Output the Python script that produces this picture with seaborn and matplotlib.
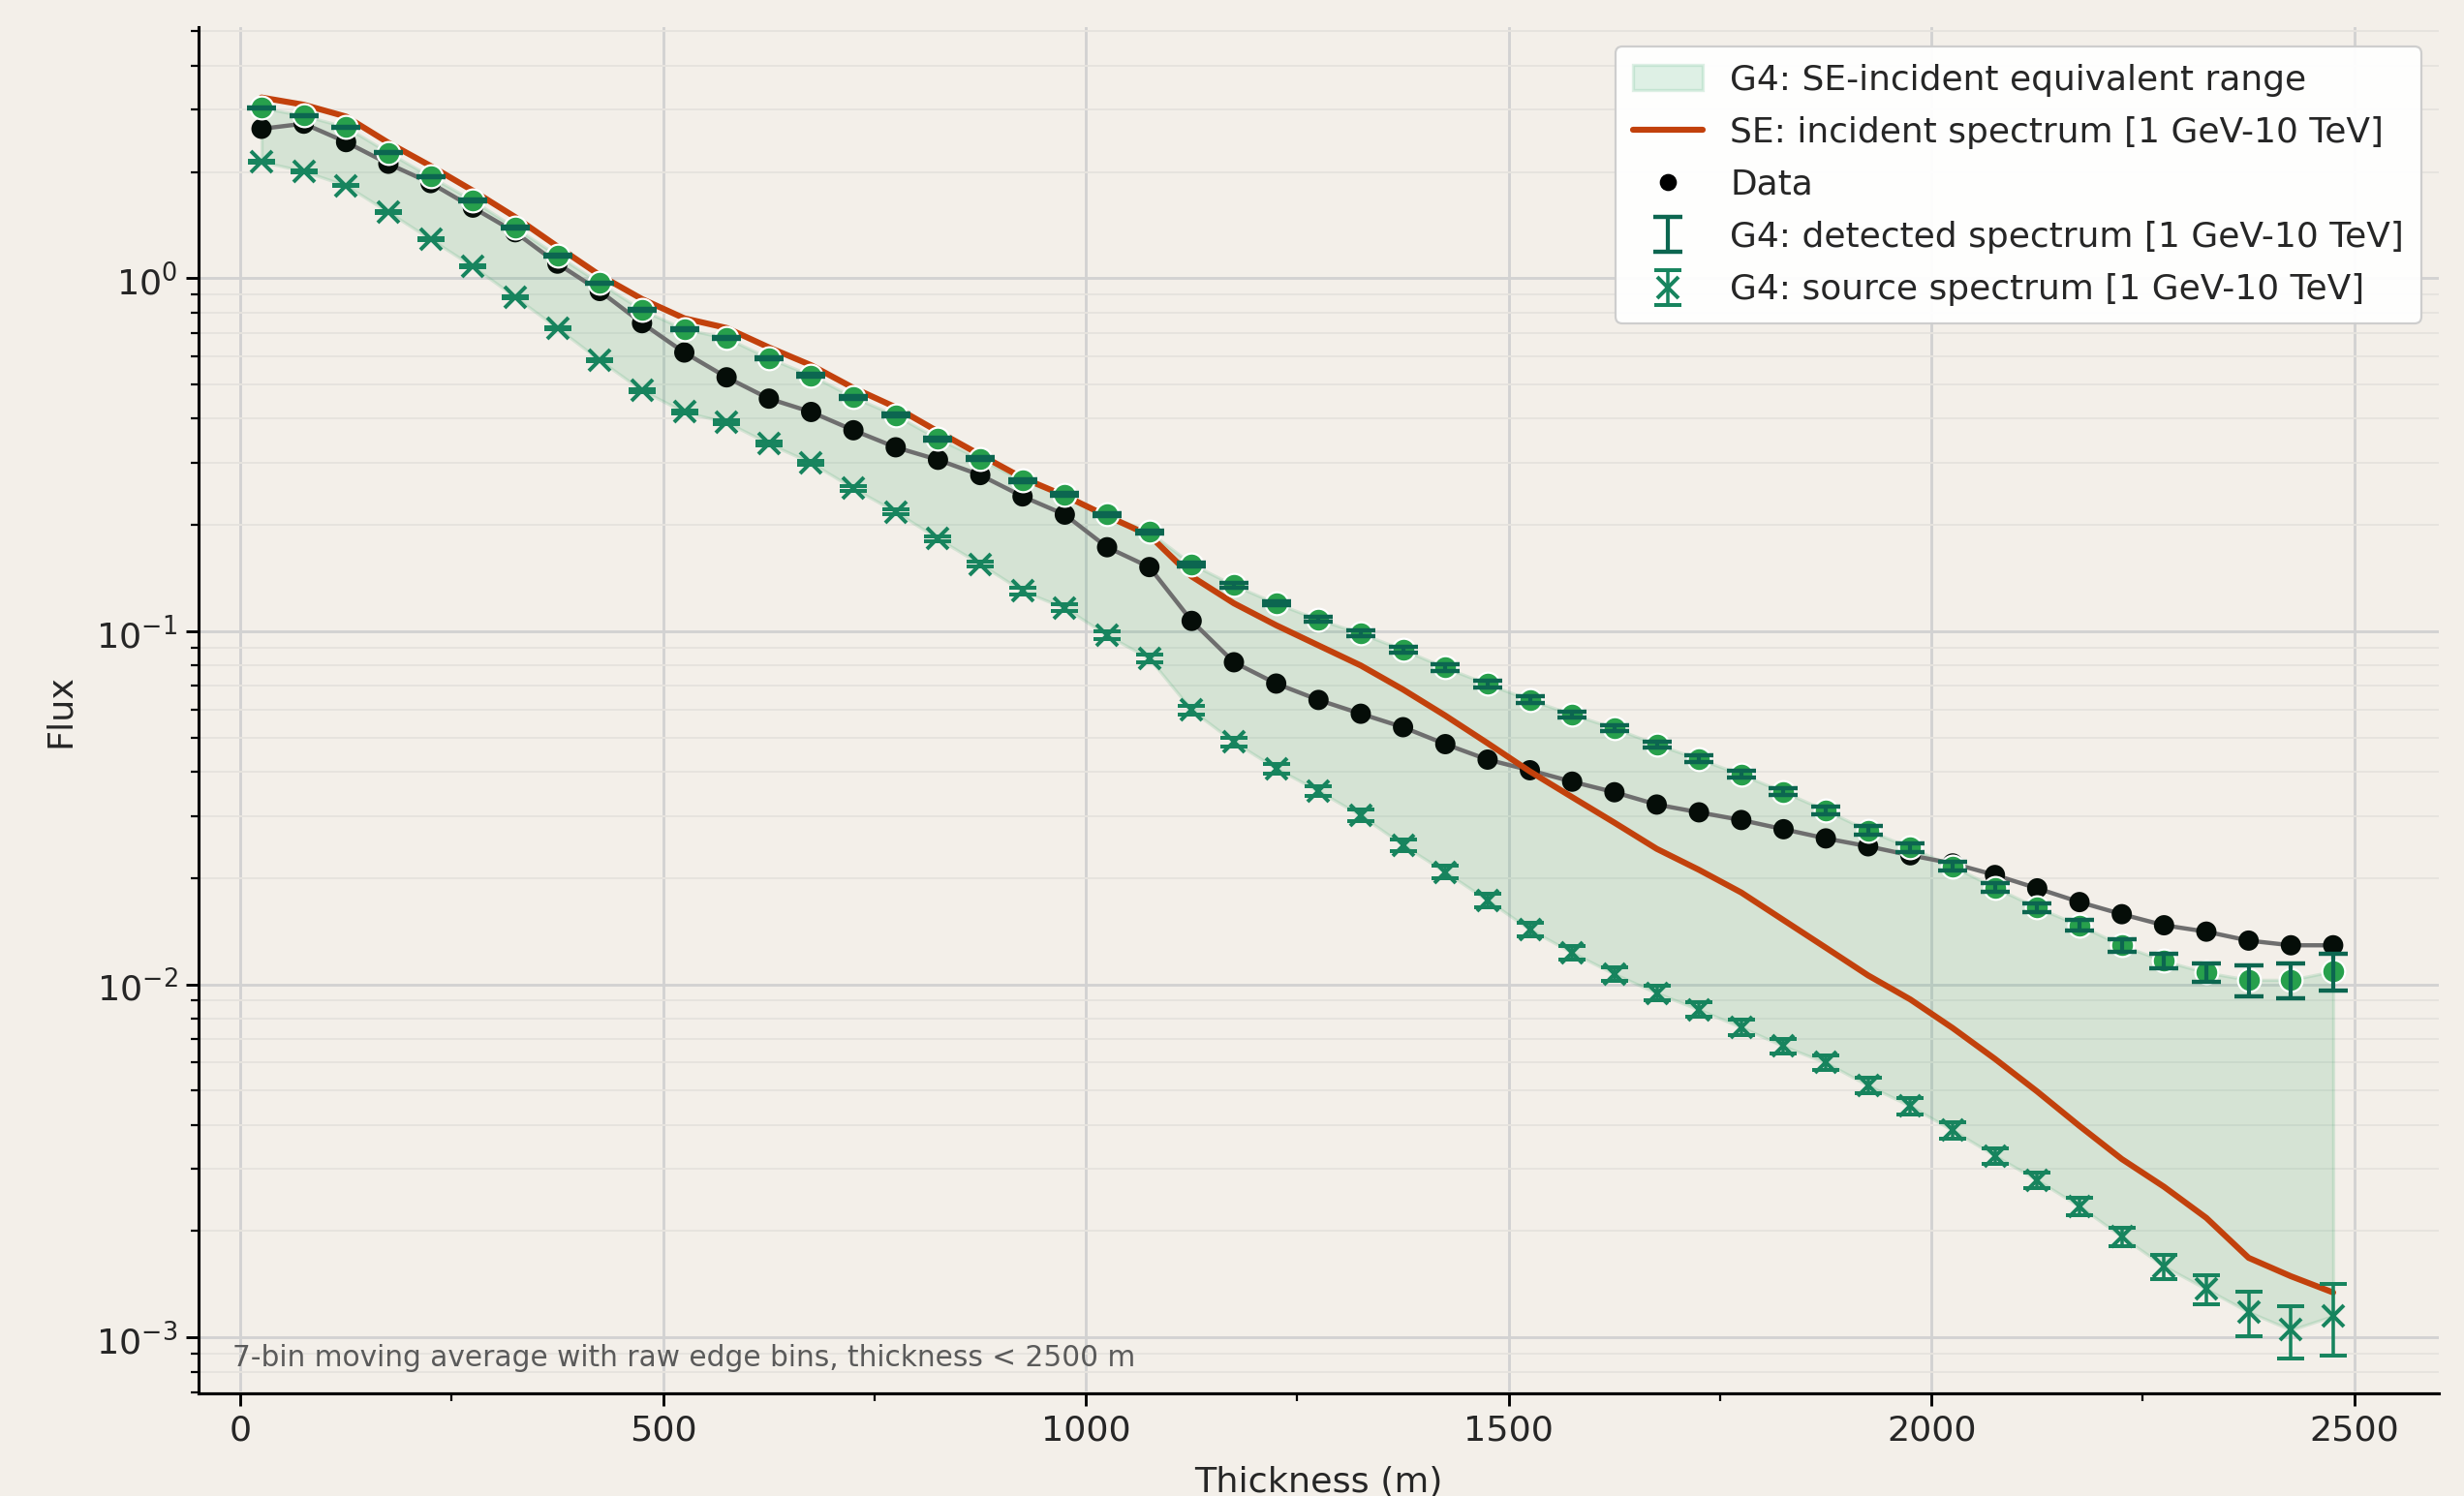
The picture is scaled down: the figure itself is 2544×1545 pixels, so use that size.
import numpy as np
import pandas as pd
import seaborn as sns
import matplotlib
matplotlib.use("Agg")
from matplotlib import pyplot as plt
from matplotlib.lines import Line2D
from matplotlib.ticker import LogLocator, MultipleLocator, NullFormatter

# bin centres (m)
thickness = [25, 75, 125, 175, 225, 275, 325, 375, 425, 475,
             525, 575, 625, 675, 725, 775, 825, 875, 925, 975,
             1025, 1075, 1125, 1175, 1225, 1275, 1325, 1375, 1425, 1475,
             1525, 1575, 1625, 1675, 1725, 1775, 1825, 1875, 1925, 1975,
             2025, 2075, 2125, 2175, 2225, 2275, 2325, 2375, 2425, 2475]

# measured flux
data_flux = [2.65, 2.74, 2.43, 2.11, 1.86, 1.585, 1.35, 1.10, 0.92, 0.746,
             0.616, 0.524, 0.456, 0.418, 0.371, 0.332, 0.306, 0.277, 0.241, 0.214,
             0.173, 0.152, 0.107, 0.0817, 0.0711, 0.0639, 0.0584, 0.0535, 0.0479, 0.0433,
             0.0404, 0.0375, 0.0350, 0.0323, 0.0307, 0.0292, 0.0275, 0.0259, 0.0246, 0.0232,
             0.0220, 0.0204, 0.0187, 0.0171, 0.0158, 0.0147, 0.0141, 0.0133, 0.0129, 0.0129]

# G4 detected spectrum + relative error (%)
detected = [3.04, 2.89, 2.68, 2.27, 1.94, 1.66, 1.39, 1.16, 0.969, 0.813,
            0.718, 0.677, 0.594, 0.531, 0.460, 0.409, 0.351, 0.308, 0.267, 0.244,
            0.214, 0.191, 0.155, 0.135, 0.120, 0.108, 0.0987, 0.0887, 0.0789, 0.0709,
            0.064, 0.0582, 0.0532, 0.0478, 0.0435, 0.0393, 0.0351, 0.0311, 0.0273, 0.0244,
            0.0216, 0.0188, 0.0165, 0.0147, 0.0129, 0.01165, 0.0108, 0.0103, 0.0103, 0.0109]
detected_err_pct = [0.4, 0.4, 0.4, 0.4, 0.4, 0.5, 0.5, 0.5, 0.5, 0.6,
                    0.6, 0.7, 0.7, 0.8, 0.8, 0.9, 0.9, 1.0, 1.0, 1.1,
                    1.1, 1.2, 1.3, 1.4, 1.5, 1.6, 1.7, 1.8, 1.9, 2.0,
                    2.0, 2.0, 2.1, 2.1, 2.2, 2.2, 2.2, 2.3, 2.7, 2.8,
                    2.7, 3.0, 3.0, 3.3, 4.0, 4.9, 5.9, 10.0, 11.4, 11.7]

# G4 source spectrum + relative error (%)
source = [2.14, 2.01, 1.83, 1.54, 1.29, 1.08, 0.885, 0.722, 0.586, 0.481,
          0.418, 0.391, 0.340, 0.300, 0.254, 0.218, 0.183, 0.155, 0.130, 0.1165,
          0.0975, 0.0837, 0.0598, 0.0486, 0.0409, 0.0353, 0.0301, 0.0248, 0.0208, 0.0173,
          0.0143, 0.0123, 0.0107, 0.00945, 0.00848, 0.00756, 0.00668, 0.00600, 0.00517, 0.00452,
          0.00386, 0.00327, 0.00279, 0.00235, 0.00193, 0.00159, 0.00137, 0.00118, 0.00105, 0.00115]
source_err_pct = [0.5, 0.5, 0.5, 0.6, 0.6, 0.7, 0.7, 0.8, 0.9, 1.0,
                  1.0, 1.1, 1.2, 1.3, 1.4, 1.5, 1.7, 1.8, 2.0, 2.2,
                  2.4, 2.6, 2.8, 3.0, 3.2, 3.4, 3.6, 3.8, 4.0, 4.2,
                  4.4, 4.5, 4.6, 4.7, 4.8, 4.8, 4.9, 4.9, 5.0, 5.1,
                  5.2, 5.0, 5.2, 5.7, 6.2, 8.0, 9.4, 14.5, 17.0, 23.0]

# SE incident spectrum
incident = [3.25, 3.10, 2.87, 2.42, 2.08, 1.77, 1.49, 1.23, 1.02, 0.873,
            0.77, 0.723, 0.637, 0.567, 0.489, 0.431, 0.368, 0.316, 0.272, 0.242,
            0.212, 0.187, 0.143, 0.120, 0.104, 0.0912, 0.080, 0.0684, 0.0577, 0.0482,
            0.0401, 0.0339, 0.0287, 0.0242, 0.0211, 0.0182, 0.0152, 0.0127, 0.0106, 0.00906,
            0.00752, 0.00615, 0.00497, 0.00397, 0.00320, 0.00267, 0.00218, 0.00168, 0.00149, 0.00134]

BG = "#f3efe9"
FILL = "#2ca25f"
RED = "#c2410c"
GREEN = "#27a04c"
DARK = "#0c6650"
TEAL = "#17845e"

sns.set_theme(style="ticks")
plt.rcParams.update({
    "font.family": ["DejaVu Sans"],
    "axes.facecolor": BG,
    "figure.facecolor": BG,
    "xtick.labelsize": 16.5,
    "ytick.labelsize": 16.5,
    "axes.labelsize": 16.5,
})

df = pd.DataFrame({
    "thickness": thickness,
    "data": data_flux,
    "detected": detected,
    "source": source,
    "incident": incident,
})
det_err = df["detected"] * np.array(detected_err_pct) / 100.0
src_err = df["source"] * np.array(source_err_pct) / 100.0

fig = plt.figure(figsize=(16, 9.717), dpi=159)
ax = fig.add_axes([0.0804, 0.0683, 0.9094, 0.9137])

band = ax.fill_between(df["thickness"], df["source"], df["detected"],
                       facecolor=FILL, alpha=0.15, edgecolor=FILL, linewidth=1.5,
                       zorder=1, label="G4: SE-incident equivalent range")

sns.lineplot(data=df, x="thickness", y="data", color="#6e6e6e", lw=2.0,
             ax=ax, zorder=2, legend=False)
sns.scatterplot(data=df, x="thickness", y="data", color="#050d08", s=90,
                edgecolor="none", ax=ax, zorder=3, legend=False)

sns.lineplot(data=df, x="thickness", y="incident", color=RED, lw=2.8,
             ax=ax, zorder=4, legend=False)

sns.scatterplot(data=df, x="thickness", y="detected", color=GREEN, s=115,
                edgecolor="white", linewidth=1.0, ax=ax, zorder=5, legend=False)
det_eb = ax.errorbar(df["thickness"], df["detected"], yerr=det_err, fmt="none",
                     ecolor=DARK, elinewidth=1.9, capsize=7, capthick=2.0, zorder=6,
                     label="G4: detected spectrum [1 GeV-10 TeV]")

src_eb = ax.errorbar(df["thickness"], df["source"], yerr=src_err, fmt="x",
                     color=TEAL, ms=10, mew=1.8, elinewidth=1.6, capsize=6.5,
                     capthick=1.6, zorder=5, label="G4: source spectrum [1 GeV-10 TeV]")

ax.set_yscale("log")
ax.set_xlim(-50, 2600)
ax.set_ylim(6.92e-4, 5.15)
ax.xaxis.set_major_locator(MultipleLocator(500))
ax.xaxis.set_minor_locator(MultipleLocator(250))
ax.yaxis.set_major_locator(LogLocator(base=10, numticks=10))
ax.yaxis.set_minor_locator(LogLocator(base=10, subs=np.arange(2, 10), numticks=20))
ax.yaxis.set_minor_formatter(NullFormatter())

ax.grid(which="major", color="#d2d2d2", lw=1.3)
ax.grid(which="minor", axis="y", color="#e6e3de", lw=0.9)
ax.set_axisbelow(True)

for side in ["top", "right"]:
    ax.spines[side].set_visible(False)
for side in ["left", "bottom"]:
    ax.spines[side].set_color("black")
    ax.spines[side].set_linewidth(1.4)
ax.tick_params(which="major", length=6, width=1.3, color="black")
ax.tick_params(which="minor", length=3.5, width=1.0, color="black")

ax.set_xlabel("Thickness (m)", labelpad=9)
ax.set_ylabel("Flux", labelpad=9)

ax.text(0.0155, 0.016, "7-bin moving average with raw edge bins, thickness < 2500 m",
        transform=ax.transAxes, fontsize=13.4, color="#5a5a5a", ha="left", va="bottom")

handles = [
    band,
    Line2D([], [], color=RED, lw=2.8),
    Line2D([], [], color="black", marker="o", ls="none", ms=7),
    det_eb,
    src_eb,
]
labels = [
    "G4: SE-incident equivalent range",
    "SE: incident spectrum [1 GeV-10 TeV]",
    "Data",
    "G4: detected spectrum [1 GeV-10 TeV]",
    "G4: source spectrum [1 GeV-10 TeV]",
]
leg = ax.legend(handles, labels, loc="upper right", fontsize=16.3, frameon=True,
                fancybox=True, framealpha=0.95, facecolor="white",
                edgecolor="#cccccc", borderpad=0.5, labelspacing=0.56,
                borderaxespad=0, bbox_to_anchor=(0.9923, 0.986))

fig.savefig("out.png", dpi=159, facecolor=BG)
